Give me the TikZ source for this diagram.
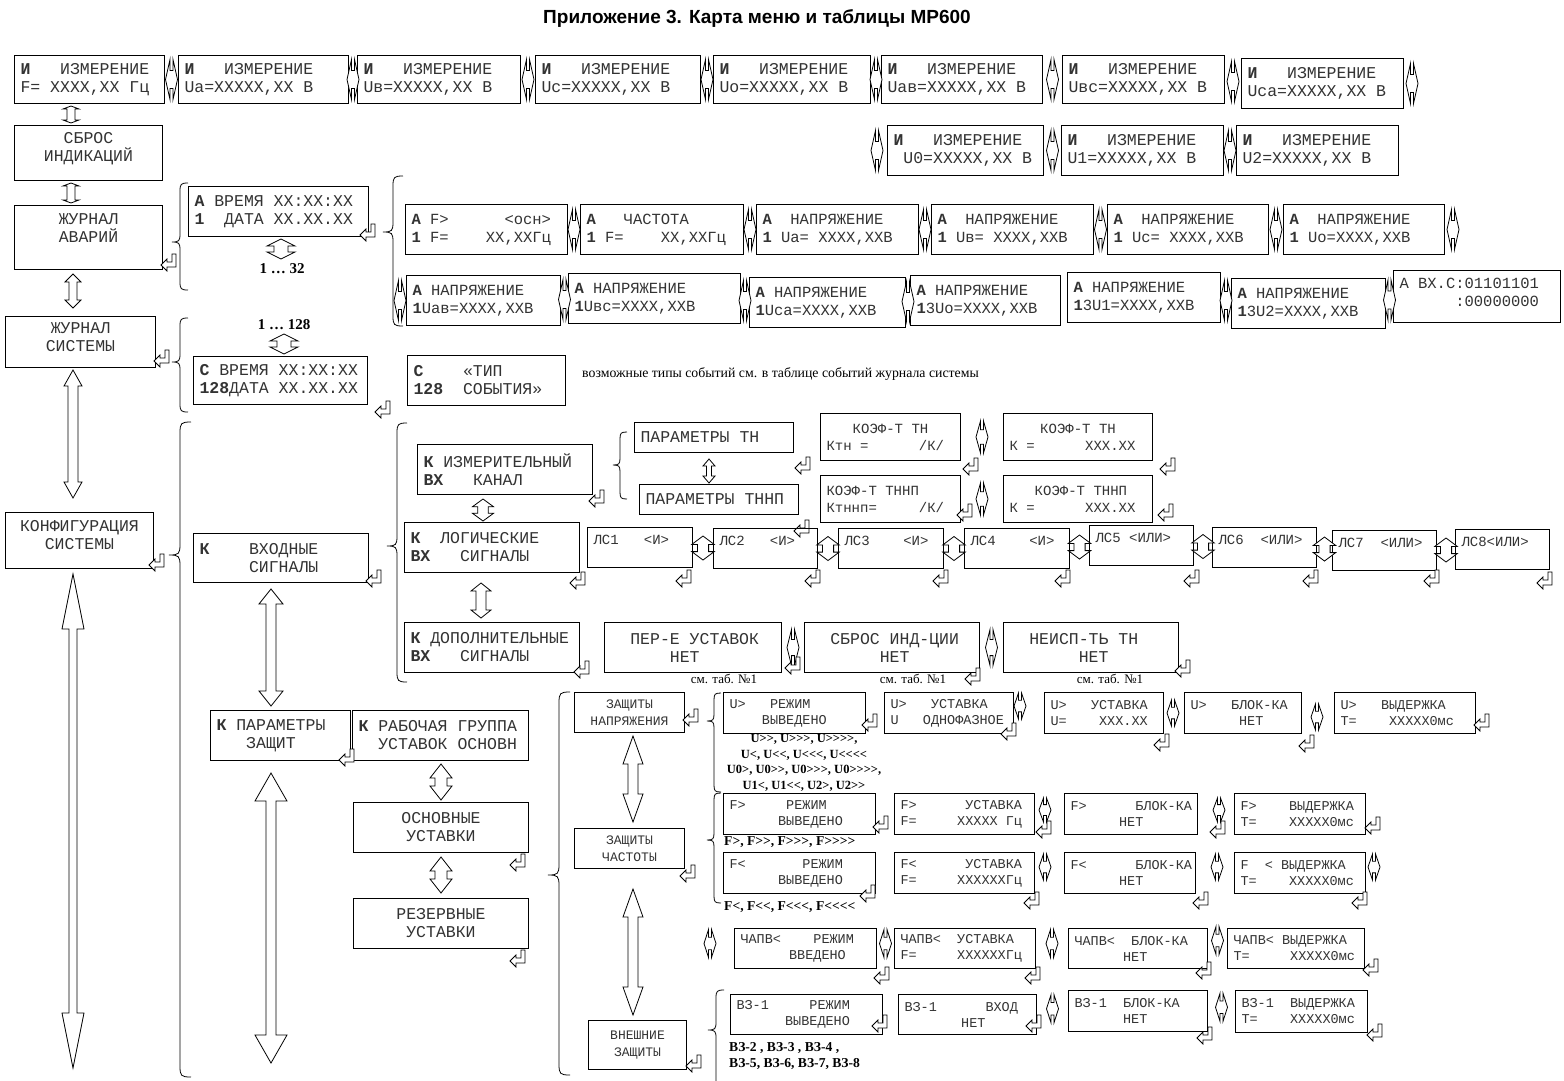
\documentclass[tikz,border=0pt]{standalone}
\usepackage{fontspec}
\setmainfont{Liberation Serif}[Ligatures=TeXOff]
\setmonofont{Liberation Mono}
\newfontfamily\titlefam{Liberation Sans}
\usetikzlibrary{calc}
\newcommand\fA{\ttfamily\fontsize{16.5}{18}\selectfont}
\newcommand\fB{\ttfamily\fontsize{15.5}{18}\selectfont}
\newcommand\fC{\ttfamily\fontsize{14}{17}\selectfont}
\newcommand\fD{\ttfamily\fontsize{13.5}{16}\selectfont}
\newcommand\fE{\ttfamily\fontsize{13}{17}\selectfont}
\newcommand\fL{\rmfamily\bfseries\fontsize{15}{17}\selectfont}
\newcommand\fS{\rmfamily\bfseries\fontsize{12.5}{15.5}\selectfont}
\newcommand\fT{\rmfamily\bfseries\fontsize{13.6}{16}\selectfont}
\newcommand\fN{\rmfamily\fontsize{13}{15}\selectfont}
\newcommand\fM{\rmfamily\fontsize{13.8}{15}\selectfont}
\newcommand\mb[1]{\textbf{#1}}
\newcommand\bx[8][]{\node[box,#1,minimum width=#5pt,minimum height=#6pt] (#2) at (#3,#4) {\vbox{\hsize=\dimexpr#5pt-12pt\relax\hbox to\hsize{#7\hfil}\hbox to\hsize{#8\hfil}}};}
\newcommand\bxo[7][]{\node[box,#1,minimum width=#5pt,minimum height=#6pt] (#2) at (#3,#4) {\hbox to\dimexpr#5pt-12pt\relax{#7\hfil}};}
\newcommand\brc[5]{\draw[brc] ({#1+#5},#2) .. controls ({#1+1},#2) and (#1,{#2+1}) .. (#1,{#2+#5}) -- (#1,{#3-#5}) .. controls (#1,{#3-1}) and ({#1-1},#3) .. ({#1-#5},#3) .. controls ({#1-1},#3) and (#1,{#3+1}) .. (#1,{#3+#5}) -- (#1,{#4-#5}) .. controls (#1,{#4-1}) and ({#1+1},#4) .. ({#1+#5},#4);}
\newcommand\vdarr[5]{\path (#1) coordinate (va) (#2) coordinate (vb);
\draw[blk] (va) -- ($(va)+(#4,#5)$) -- ($(va)+(#3,#5)$) -- ($(vb)+(#3,-#5)$) -- ($(vb)+(#4,-#5)$) -- (vb) -- ($(vb)+(-#4,-#5)$) -- ($(vb)+(-#3,-#5)$) -- ($(va)+(-#3,#5)$) -- ($(va)+(-#4,#5)$) -- cycle;}
\tikzset{
 box/.style={draw=black, line width=1pt, inner sep=0pt, anchor=north west, text=black!80, font=\fA},
 blk/.style={draw=black, line width=0.8pt, fill=white},
 brc/.style={draw=black, line width=0.8pt},
 lbl/.style={font=\fL, inner sep=0pt},
 lbls/.style={font=\fS, inner sep=0pt},
 lblt/.style={font=\fT, inner sep=0pt},
 lbln/.style={font=\fN, inner sep=0pt},
 lrn/.pic={\draw[blk] (-6,0) -- (-1.5,-20) -- (-1.5,-9) -- (1.5,-9) -- (1.5,-20) -- (6,0) -- (1.5,20) -- (1.5,9) -- (-1.5,9) -- (-1.5,20) -- cycle;},
 udf/.pic={\draw[blk] (0,-10) -- (14,-3) -- (7,-3) -- (7,3) -- (14,3) -- (0,10) -- (-14,3) -- (-7,3) -- (-7,-3) -- (-14,-3) -- cycle;},
 ent/.pic={\draw[blk] (-8,3) -- (-2,-3) -- (-2,0) -- (3,0) -- (3,-8) -- (7,-8) -- (7,5) -- (-2,5) -- (-2,9) -- cycle;},
}
\begin{document}
\begin{tikzpicture}[x=1pt,y=-1pt]
\useasboundingbox (0,0) rectangle (1564,1080);
\clip (0,0) rectangle (1564,1080);
\fill[white] (0,0) rectangle (1564,1080);
\node[font=\titlefam\bfseries\fontsize{19}{22}\selectfont] (title) at (757,18) {Приложение 3. Карта меню и таблицы МР600};
% ---- measurement row
\bx{B1}{14}{55}{150}{48}{\mb{И}~~~ИЗМЕРЕНИЕ}{F=~XXXX,XX~Гц}
\bx{B2}{178}{55}{170}{48}{\mb{И}~~~ИЗМЕРЕНИЕ}{Ua=XXXXX,XX~В}
\bx{B3}{357}{55}{163}{48}{\mb{И}~~~ИЗМЕРЕНИЕ}{Uв=XXXXX,XX~В}
\bx{B4}{535}{55}{165}{48}{\mb{И}~~~ИЗМЕРЕНИЕ}{Uc=XXXXX,XX~В}
\bx{B5}{713}{55}{157}{48}{\mb{И}~~~ИЗМЕРЕНИЕ}{Uo=XXXXX,XX~В}
\bx{B6}{881}{55}{161}{48}{\mb{И}~~~ИЗМЕРЕНИЕ}{Uaв=XXXXX,XX~В}
\bx{B7}{1062}{55}{162}{48}{\mb{И}~~~ИЗМЕРЕНИЕ}{Uвc=XXXXX,XX~В}
\bx{B8}{1241}{58}{162}{50}{\mb{И}~~~ИЗМЕРЕНИЕ}{Uca=XXXXX,XX~В}
\bx{B9}{887}{125}{156}{50}{\mb{И}~~~ИЗМЕРЕНИЕ}{~U0=XXXXX,XX~В}
\bx{B10}{1061}{125}{162}{50}{\mb{И}~~~ИЗМЕРЕНИЕ}{U1=XXXXX,XX~В}
\bx{B11}{1236}{125}{162}{50}{\mb{И}~~~ИЗМЕРЕНИЕ}{U2=XXXXX,XX~В}
\foreach \p/\q in {B1/B2,B2/B3,B3/B4,B4/B5,B5/B6,B6/B7,B7/B8,B9/B10,B10/B11}
  \pic at ($(\p.east)!.5!(\q.west)$) {lrn};
\pic at ($(B8.east)+(8,0)$) {lrn};
\pic at ($(B9.west)+(-10,0)$) {lrn};
% ---- left column
\bx[text depth=11.5pt]{S}{14}{125}{148}{55}{\hfil СБРОС}{\hfil ИНДИКАЦИЙ}
\bx[text depth=19pt]{JA}{14}{205}{148}{64}{\hfil ЖУРНАЛ}{\hfil АВАРИЙ}
\bx[text depth=9.5pt]{JS}{5}{316}{150}{51}{\hfil ЖУРНАЛ}{\hfil СИСТЕМЫ}
\bx[text depth=11.5pt]{KS}{5}{512}{148}{56}{\hfil КОНФИГУРАЦИЯ}{\hfil СИСТЕМЫ}
\coordinate (KSend) at (73,1068);
\vdarr{$(B1.south west)+(57,2)$}{$(S.north west)+(57,-2)$}{4}{8}{3}
\vdarr{$(S.south west)+(57,2)$}{$(JA.north west)+(57,-2)$}{4}{8}{3}
\vdarr{$(JA.south west)+(59,4)$}{$(JS.north west)+(68,-8)$}{4}{8}{8}
\vdarr{$(JS.south west)+(68,2)$}{$(KS.north west)+(68,-14)$}{5}{9}{16}
\vdarr{$(KS.south west)+(68,5)$}{KSend}{4}{11}{55}
\pic at (169,262) {ent};
\pic at (162,358) {ent};
\pic at (157,562) {ent};
% ---- alarm journal
\brc{180}{183}{242}{290}{8}
\bx{A1}{188}{186}{180}{50}{\mb{А}~ВРЕМЯ~XX:XX:XX}{\mb{1}~~ДАТА~XX.XX.XX}
\pic at (368,232) {ent};
\pic at ($(A1.south west)+(93,12)$) {udf};
\node[lbl] (t32) at ($(A1.south west)+(94,32)$) {1 … 32};
\brc{393}{176}{232}{326}{10}
\bx[font=\fB]{a1}{405}{204}{162}{50}{\mb{А}~F>~~~~~~<осн>}{\mb{1}~F=~~~~XX,XXГц}
\bx[font=\fB]{a2}{580}{204}{163}{50}{\mb{А}~~~ЧАСТОТА}{\mb{1}~F=~~~~XX,XXГц}
\bx[font=\fB]{a3}{756}{204}{162}{50}{\mb{А}~~НАПРЯЖЕНИЕ}{\mb{1}~Ua=~XXXX,XXВ}
\bx[font=\fB]{a4}{931}{204}{162}{50}{\mb{А}~~НАПРЯЖЕНИЕ}{\mb{1}~Uв=~XXXX,XXВ}
\bx[font=\fB]{a5}{1107}{204}{161}{50}{\mb{А}~~НАПРЯЖЕНИЕ}{\mb{1}~Uc=~XXXX,XXВ}
\bx[font=\fB]{a6}{1283}{204}{161}{50}{\mb{А}~~НАПРЯЖЕНИЕ}{\mb{1}~Uo=XXXX,XXВ}
\foreach \p/\q in {a1/a2,a2/a3,a3/a4,a4/a5,a5/a6}
  \pic at ($(\p.east)!.5!(\q.west)$) {lrn};
\pic at ($(a6.east)+(8,0)$) {lrn};
\bx[font=\fB]{b1}{406}{275}{154}{50}{\mb{А}~НАПРЯЖЕНИЕ}{\mb{1}Uaв=XXXX,XXВ}
\bx[font=\fB]{b2}{568}{273}{172}{50}{\mb{А}~НАПРЯЖЕНИЕ}{\mb{1}Uвc=XXXX,XXВ}
\bx[font=\fB]{b3}{749}{277}{156}{50}{\mb{А}~НАПРЯЖЕНИЕ}{\mb{1}Uca=XXXX,XXВ}
\bx[font=\fB]{b4}{910}{275}{150}{50}{\mb{А}~НАПРЯЖЕНИЕ}{\mb{1}3Uo=XXXX,XXВ}
\bx[font=\fB]{b5}{1067}{272}{153}{50}{\mb{А}~НАПРЯЖЕНИЕ}{\mb{1}3U1=XXXX,XXВ}
\bx[font=\fB]{b6}{1231}{278}{154}{50}{\mb{А}~НАПРЯЖЕНИЕ}{\mb{1}3U2=XXXX,XXВ}
\bx[font=\fB,text depth=9pt]{b7}{1393}{270}{167}{52}{А~ВХ.С:01101101}{~~~~~~:00000000}
\foreach \p/\q in {b1/b2,b2/b3,b3/b4,b5/b6,b6/b7}
  \pic at ($(\p.east)!.5!(\q.west)$) {lrn};
\pic at ($(b1.west)+(-6,0)$) {lrn};
% ---- system journal
\brc{180}{318}{362}{412}{8}
\bx{c1}{193}{356}{174}{48}{\mb{С}~ВРЕМЯ~XX:XX:XX}{\mb{128}ДАТА~XX.XX.XX}
\node[lbl] (t128) at ($(c1.north west)+(91,-31)$) {1 … 128};
\pic at ($(c1.north west)+(91,-12)$) {udf};
\pic at (383,409) {ent};
\bx{c2}{407}{355}{158}{50}{\mb{С}~~~~«ТИП}{\mb{128}~~СОБЫТИЯ»}
\node[font=\fM, inner sep=0pt, anchor=west] (note) at (582,374) {возможные типы событий см. в таблице событий журнала системы};
% ---- configuration
\brc{180}{422}{555}{1077}{11}
\bx{VX}{193}{533}{175}{49}{\mb{К}~~~~ВХОДНЫЕ}{~~~~~СИГНАЛЫ}
\pic at (374,578) {ent};
\brc{397}{423}{546}{682}{10}
\bx{IZM}{417}{444}{175}{50}{\mb{К}~ИЗМЕРИТЕЛЬНЫЙ}{\mb{ВХ}~~~КАНАЛ}
\bx{LOG}{404}{522}{175}{50}{\mb{К}~~ЛОГИЧЕСКИЕ}{\mb{ВХ}~~~СИГНАЛЫ}
\bx{DOP}{404}{622}{175}{50}{\mb{К}~ДОПОЛНИТЕЛЬНЫЕ}{\mb{ВХ}~~~СИГНАЛЫ}
\pic at (597,498) {ent};
\pic at (578,580) {ent};
\pic at (582,669) {ent};
\pic[xscale=0.75,yscale=1.1] at ($(IZM.south west)+(66,15)$) {udf};
\vdarr{$(LOG.south west)+(77,10)$}{$(DOP.north west)+(77,-4)$}{5}{10}{8}
\brc{620}{432}{465}{499}{7}
\bxo{PTN}{634}{422}{159}{30}{ПАРАМЕТРЫ~ТН}
\bxo{PTNNP}{639}{484}{159}{30}{ПАРАМЕТРЫ~ТННП}
\vdarr{$(PTN.south west)+(75,6)$}{$(PTNNP.north west)+(70,-1)$}{2.5}{6}{7}
\pic at (803,465) {ent};
\pic at (802,528) {ent};
\bx[font=\fC]{KTH1}{820}{413}{140}{47}{\hfil КОЭФ-Т~ТН}{Ктн~=~~~~~~/К/}
\bx[font=\fC]{KTH2}{1003}{413}{149}{47}{\hfil КОЭФ-Т~ТН}{К~=~~~~~~XXX.XX}
\bx[font=\fC]{KTN1}{820}{475}{140}{47}{КОЭФ-Т~ТННП}{Ктннп=~~~~~/К/}
\bx[font=\fC]{KTN2}{1003}{475}{149}{47}{~~~КОЭФ-Т~ТННП}{К~=~~~~~~XXX.XX}
\pic[yscale=0.8] at ($(KTH1.east)!.5!(KTH2.west)$) {lrn};
\pic[yscale=0.8] at ($(KTN1.east)!.5!(KTN2.west)$) {lrn};
\pic at (971,466) {ent};
\pic at (1168,466) {ent};
\pic at (965,512) {ent};
\pic at (1166,512) {ent};
% logic signals
\bxo[font=\fC,text depth=15pt]{L1}{587}{527}{105}{40}{ЛС1~~~<И>}
\bxo[font=\fC,text depth=15pt]{L2}{713}{528}{104}{40}{ЛС2~~~<И>}
\bxo[font=\fC,text depth=15pt]{L3}{838}{528}{105}{40}{ЛС3~~~~<И>}
\bxo[font=\fC,text depth=15pt]{L4}{964}{528}{105}{40}{ЛС4~~~~<И>}
\bxo[font=\fC,text depth=15pt]{L5}{1089}{525}{104}{40}{ЛС5~<ИЛИ>}
\bxo[font=\fC,text depth=15pt]{L6}{1212}{527}{104}{40}{ЛС6~~<ИЛИ>}
\bxo[font=\fC,text depth=15pt]{L7}{1332}{530}{104}{40}{ЛС7~~<ИЛИ>}
\bxo[font=\fC,text depth=15pt]{L8}{1455}{529}{94}{40}{ЛС8<ИЛИ>}
\foreach \p/\q in {L1/L2,L2/L3,L3/L4,L4/L5,L5/L6,L6/L7,L7/L8}
  \pic[xscale=0.8,yscale=1.2] at ($(\p.east)!.5!(\q.west)$) {udf};
\foreach \xx in {684,813,941,1063,1192,1311,1432}
  \pic at (\xx,578) {ent};
\pic at (1545,580) {ent};
% additional signals
\bx{P1}{604}{622}{177}{50}{~~ПЕР-Е~УСТАВОК}{~~~~~~НЕТ}
\bx{P2}{804}{622}{175}{50}{~~СБРОС~ИНД-ЦИИ}{~~~~~~~НЕТ}
\bx{P3}{1003}{622}{175}{50}{~~НЕИСП-ТЬ~ТН}{~~~~~~~НЕТ}
\pic[yscale=0.9] at ($(P1.east)!.5!(P2.west)$) {lrn};
\pic[yscale=0.9] at ($(P2.east)!.5!(P3.west)$) {lrn};
\pic at (793,665) {ent};
\pic at (973,676) {ent};
\pic at (1183,668) {ent};
\node[lbln] (sm1) at (724,679) {см. таб. №1};
\node[lbln] (sm2) at (913,679) {см. таб. №1};
\node[lbln] (sm3) at (1110,679) {см. таб. №1};
% ---- protections
\bx{PZ}{210}{710}{140}{50}{\mb{К}~ПАРАМЕТРЫ}{~~~ЗАЩИТ}
\bx{RG}{352}{710}{176}{50}{\mb{К}~РАБОЧАЯ~ГРУППА}{~~УСТАВОК~ОСНОВН}
\bx{OSN}{353}{802}{175}{50}{\hfil ОСНОВНЫЕ}{\hfil УСТАВКИ}
\bx{REZ}{353}{898}{175}{50}{\hfil РЕЗЕРВНЫЕ}{\hfil УСТАВКИ}
\coordinate (PZend) at (271,1063);
\vdarr{$(VX.south west)+(78,6)$}{$(PZ.north west)+(61,-4)$}{5}{12}{15}
\vdarr{$(PZ.south west)+(61,12)$}{PZend}{5}{16}{28}
\vdarr{$(RG.south west)+(89,3)$}{$(OSN.north west)+(88,-2)$}{6}{11}{14}
\vdarr{$(OSN.south west)+(88,4)$}{$(REZ.north west)+(88,-5)$}{6}{11}{14}
\pic at (347,757) {ent};
\pic at (518,862) {ent};
\pic at (518,958) {ent};
\brc{559}{692}{875}{1075}{11}
\bx[font=\fE]{ZN}{574}{692}{110}{40}{\hfil ЗАЩИТЫ}{\hfil НАПРЯЖЕНИЯ}
\bx[font=\fE]{ZC}{574}{828}{110}{40}{\hfil ЗАЩИТЫ}{\hfil ЧАСТОТЫ}
\bx[font=\fE]{VN}{588}{1020}{98}{49}{\hfil ВНЕШНИЕ}{\hfil ЗАЩИТЫ}
\vdarr{$(ZN.south west)+(59,3)$}{$(ZC.north west)+(59,-6)$}{5}{10}{28}
\vdarr{$(ZC.south west)+(59,20)$}{$(VN.north west)+(45,-5)$}{5}{10}{28}
\pic at (691,717) {ent};
\pic at (688,873) {ent};
\pic at (694,1063) {ent};
% voltage
\brc{714}{693}{721}{792}{7}
\bx[font=\fD]{u1}{723}{692}{142}{41}{U>~~~РЕЖИМ}{~~~~ВЫВЕДЕНО}
\bx[font=\fD]{u2}{884}{692}{129}{41}{U>~~~УСТАВКА}{U~~~ОДНОФАЗНОЕ}
\bx[font=\fD]{u3}{1044}{692}{119}{41}{U>~~~УСТАВКА}{U=~~~~XXX.XX}
\bx[font=\fD]{u4}{1184}{692}{117}{41}{U>~~~БЛОК-КА}{~~~~~~НЕТ}
\bx[font=\fD]{u5}{1334}{692}{141}{41}{U>~~~ВЫДЕРЖКА}{T=~~~~XXXXX0мс}
\pic[yscale=0.65] at ($(u2.north east)+(6,14)$) {lrn};
\pic[yscale=0.65] at ($(u3.east)+(9,0)$) {lrn};
\pic[yscale=0.65] at ($(u4.east)+(15,4)$) {lrn};
\pic at (870,722) {ent};
\pic at (1009,731) {ent};
\pic at (1162,742) {ent};
\pic at (1307,743) {ent};
\pic at (1482,722) {ent};
\node[lbls, align=center] (ulist) at (804,763) {U>>, U>>>, U>>>>,\\U<, U<<, U<<<, U<<<<\\U0>, U0>>, U0>>>, U0>>>>,\\U1<, U1<<, U2>, U2>>};
% frequency
\brc{714}{793}{840}{903}{7}
\bx[font=\fD]{f1}{723}{793}{152}{41}{F>~~~~~РЕЖИМ}{~~~~~~ВЫВЕДЕНО}
\bx[font=\fD]{f2}{894}{793}{140}{41}{F>~~~~~~УСТАВКА}{F=~~~~~XXXXX~Гц}
\bx[font=\fD]{f3}{1064}{793}{133}{41}{F>~~~~~~БЛОК-КА}{~~~~~~НЕТ}
\bx[font=\fD]{f4}{1234}{793}{131}{41}{F>~~~~ВЫДЕРЖКА}{T=~~~~XXXXX0мс}
\pic[yscale=0.6] at ($(f2.east)+(10,-4)$) {lrn};
\pic[yscale=0.6] at ($(f3.east)+(21,-4)$) {lrn};
\pic at (881,824) {ent};
\pic at (1044,829) {ent};
\pic at (1218,829) {ent};
\pic at (1373,825) {ent};
\node[lblt, anchor=west] (flist1) at (724,842) {F>, F>>, F>>>, F>>>>};
\bx[font=\fD]{g1}{723}{852}{152}{41}{F<~~~~~~~РЕЖИМ}{~~~~~~ВЫВЕДЕНО}
\bx[font=\fD]{g2}{894}{852}{140}{41}{F<~~~~~~УСТАВКА}{F=~~~~~XXXXXXГц}
\bx[font=\fD]{g3}{1064}{852}{131}{41}{F<~~~~~~БЛОК-КА}{~~~~~~НЕТ}
\bx[font=\fD]{g4}{1234}{852}{131}{41}{F~~<~ВЫДЕРЖКА}{T=~~~~XXXXX0мс}
\pic[yscale=0.65] at ($(g2.east)+(10,-6)$) {lrn};
\pic[yscale=0.65] at ($(g3.east)+(21,-6)$) {lrn};
\pic[yscale=0.65] at ($(g4.east)+(8,-6)$) {lrn};
\pic at (868,893) {ent};
\pic at (1032,900) {ent};
\pic at (1201,900) {ent};
\pic at (1360,900) {ent};
\node[lblt, anchor=west] (flist2) at (724,907) {F<, F<<, F<<<, F<<<<};
% CHAPV
\bx[font=\fD]{h1}{734}{928}{142}{40}{ЧАПВ<~~~~РЕЖИМ}{~~~~~~ВВЕДЕНО}
\bx[font=\fD]{h2}{894}{928}{141}{40}{ЧАПВ<~~УСТАВКА}{F=~~~~~XXXXXXГц}
\bx[font=\fD]{h3}{1068}{928}{139}{40}{ЧАПВ<~~БЛОК-КА}{~~~~~~НЕТ}
\bx[font=\fD]{h4}{1227}{928}{137}{40}{ЧАПВ<~ВЫДЕРЖКА}{T=~~~~~XXXXX0мс}
\pic[yscale=0.7] at ($(h1.west)+(-24,-5)$) {lrn};
\pic[yscale=0.7] at ($(h1.east)!.5!(h2.west)+(0,-5)$) {lrn};
\pic[yscale=0.7] at ($(h2.east)!.5!(h3.west)+(0,-5)$) {lrn};
\pic[yscale=0.7] at ($(h3.east)!.5!(h4.west)+(0,-8)$) {lrn};
\pic at (882,975) {ent};
\pic at (1033,975) {ent};
\pic at (1204,970) {ent};
\pic at (1371,967) {ent};
% external
\brc{716}{990}{1030}{1100}{8}
\bx[font=\fD]{v1}{730}{994}{152}{40}{ВЗ-1~~~~~РЕЖИМ}{~~~~~~ВЫВЕДЕНО}
\bx[font=\fD]{v2}{898}{994}{138}{40}{ВЗ-1~~~~~~ВХОД}{~~~~~~~НЕТ}
\bx[font=\fD]{v3}{1068}{990}{139}{41}{ВЗ-1~~БЛОК-КА}{~~~~~~НЕТ}
\bx[font=\fD]{v4}{1235}{990}{132}{42}{ВЗ-1~~ВЫДЕРЖКА}{T=~~~~XXXXX0мс}
\pic[yscale=0.7] at ($(v2.east)!.5!(v3.west)+(0,-4)$) {lrn};
\pic[yscale=0.7] at ($(v3.east)!.5!(v4.west)+(0,-4)$) {lrn};
\pic at (880,1023) {ent};
\pic at (1034,1023) {ent};
\pic at (1205,1035) {ent};
\pic at (1375,1032) {ent};
\node[lblt, anchor=west, align=left] (vzlist) at (729,1056) {ВЗ-2 , ВЗ-3 , ВЗ-4 ,\\ВЗ-5, ВЗ-6, ВЗ-7, ВЗ-8};
\end{tikzpicture}
\end{document}
